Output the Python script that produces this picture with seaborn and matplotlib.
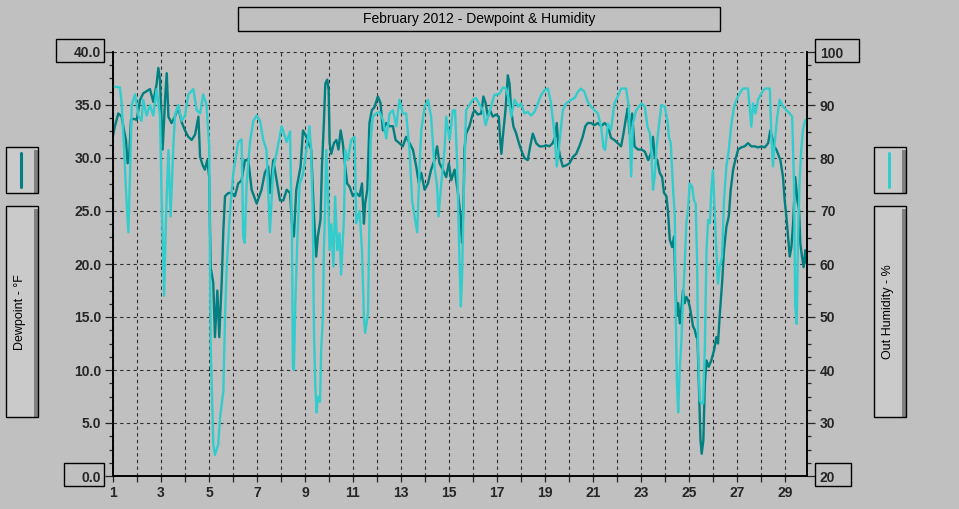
import numpy as np
import pandas as pd
import matplotlib
matplotlib.use("Agg")
import matplotlib.pyplot as plt
import seaborn as sns
from matplotlib.patches import Rectangle
from matplotlib.lines import Line2D
from matplotlib.ticker import AutoMinorLocator, FixedLocator

# -----------------------------
# Data (day of month, value)
# -----------------------------
dew_day = [
    1.00, 1.08, 1.22, 1.36, 1.46, 1.54, 1.61, 1.68, 1.75, 1.85, 1.99, 2.13, 2.26, 2.40, 2.54, 2.68,
    2.82, 2.89, 2.96, 3.07, 3.17, 3.24, 3.31, 3.44, 3.58, 3.72, 3.86, 4.00, 4.14, 4.28, 4.42, 4.56,
    4.63, 4.74, 4.83, 4.93, 5.01, 5.07, 5.18, 5.25, 5.35, 5.43, 5.53, 5.60, 5.67, 5.81, 5.94, 6.08,
    6.22, 6.36, 6.50, 6.64, 6.78, 6.99, 7.19, 7.33, 7.47, 7.54, 7.68, 7.82, 7.96, 8.10, 8.24, 8.38,
    8.46, 8.54, 8.64, 8.74, 8.82, 8.92, 9.06, 9.15, 9.26, 9.38, 9.47, 9.54, 9.65, 9.71, 9.79, 9.85,
    9.93, 9.99, 10.03, 10.10, 10.21, 10.31, 10.40, 10.49, 10.58, 10.68, 10.76, 10.86, 11.00, 11.14,
    11.28, 11.38, 11.46, 11.51, 11.60, 11.69, 11.79, 11.90, 12.04, 12.15, 12.25, 12.39, 12.53, 12.67,
    12.78, 12.94, 13.08, 13.22, 13.36, 13.50, 13.64, 13.75, 13.85, 13.99, 14.13, 14.26, 14.40, 14.51,
    14.61, 14.75, 14.89, 15.00, 15.10, 15.24, 15.38, 15.49, 15.55, 15.62, 15.65, 15.72, 15.86, 16.00,
    16.07, 16.21, 16.35, 16.44, 16.53, 16.63, 16.72, 16.83, 16.97, 17.08, 17.14, 17.19, 17.25, 17.36,
    17.46, 17.53, 17.60, 17.69, 17.81, 17.92, 18.01, 18.15, 18.29, 18.39, 18.50, 18.64, 18.78, 18.92,
    19.06, 19.19, 19.33, 19.43, 19.50, 19.56, 19.64, 19.75, 19.89, 20.03, 20.17, 20.31, 20.44, 20.58,
    20.69, 20.79, 20.93, 21.07, 21.21, 21.35, 21.49, 21.63, 21.76, 21.90, 22.04, 22.18, 22.28, 22.39,
    22.46, 22.53, 22.64, 22.74, 22.88, 23.03, 23.17, 23.31, 23.42, 23.51, 23.58, 23.69, 23.79, 23.89,
    23.97, 24.07, 24.14, 24.21, 24.31, 24.39, 24.44, 24.50, 24.56, 24.63, 24.69, 24.76, 24.83, 24.90,
    24.97, 25.04, 25.11, 25.18, 25.25, 25.32, 25.36, 25.42, 25.49, 25.54, 25.61, 25.67, 25.74, 25.83,
    25.94, 26.06, 26.15, 26.22, 26.29, 26.39, 26.47, 26.57, 26.67, 26.75, 26.85, 26.94, 27.06, 27.19,
    27.33, 27.47, 27.61, 27.75, 27.89, 28.03, 28.17, 28.31, 28.40, 28.47, 28.56, 28.65, 28.72, 28.82,
    28.93, 29.00, 29.07, 29.14, 29.21, 29.28, 29.35, 29.44, 29.53, 29.60, 29.65, 29.72, 29.79, 29.86,
    29.90,
]
dew_f = [
    32.1, 33.0, 34.2, 33.9, 32.6, 31.7, 29.5, 30.4, 33.6, 33.7, 33.6, 35.5, 36.1, 36.3, 36.5, 35.3,
    37.0, 38.5, 37.4, 30.8, 35.5, 38.0, 33.9, 33.3, 33.9, 34.8, 33.4, 32.6, 32.0, 31.7, 32.2, 33.9,
    30.1, 29.3, 28.9, 29.8, 28.2, 19.7, 18.2, 13.1, 17.5, 13.1, 18.2, 23.2, 26.4, 26.7, 26.7, 26.4,
    27.6, 27.9, 29.8, 29.8, 27.0, 25.7, 27.0, 28.6, 29.2, 26.7, 29.8, 27.9, 26.0, 26.0, 27.0, 26.7,
    23.8, 22.6, 27.0, 28.2, 29.2, 32.6, 32.0, 31.4, 30.8, 24.5, 20.7, 22.6, 24.2, 29.2, 33.3, 37.0,
    37.4, 36.4, 31.4, 30.4, 31.4, 31.7, 30.8, 32.6, 31.4, 29.2, 27.6, 27.3, 26.4, 26.7,
    26.4, 27.6, 23.8, 25.7, 27.0, 33.3, 34.5, 34.8, 35.8, 35.2, 32.6, 33.3, 33.0, 33.0,
    31.7, 31.4, 31.1, 32.0, 31.4, 30.8, 29.2, 27.6, 28.6, 27.0, 27.6, 28.9, 29.8, 31.1,
    29.5, 28.9, 28.2, 29.5, 27.9, 28.9, 26.7, 24.5, 22.0, 26.7, 30.8, 32.3, 33.0, 34.2,
    34.5, 34.1, 34.2, 35.8, 35.2, 33.9, 34.5, 33.9, 34.1, 33.9, 31.7, 30.4, 32.0, 34.5,
    37.8, 37.0, 34.5, 33.0, 32.3, 31.4, 30.8, 30.0, 29.8, 31.1, 32.3, 31.4, 31.1, 31.1,
    31.2, 31.1, 31.4, 32.0, 33.3, 31.1, 30.1, 29.2, 29.3, 29.5, 30.1, 30.4, 31.1, 32.0,
    33.0, 33.3, 33.3, 33.1, 33.3, 33.0, 33.3, 33.0, 31.9, 31.7, 31.4, 31.1, 32.3, 33.9,
    34.7, 32.3, 34.2, 31.1, 30.8, 30.8, 30.6, 29.8, 30.4, 32.0, 30.1, 29.8, 28.6, 28.2,
    26.7, 26.4, 24.8, 22.3, 21.6, 22.6, 18.2, 15.1, 16.3, 14.4, 15.7, 17.5, 16.3, 16.9,
    16.6, 16.0, 15.1, 14.1, 13.8, 13.1, 13.4, 8.7, 3.4, 2.1, 3.4, 8.7, 10.9, 10.3,
    10.9, 11.9, 13.1, 12.5, 15.1, 18.2, 21.3, 23.5, 24.5, 27.0, 28.9, 29.8, 30.8, 31.0,
    31.1, 31.4, 31.1, 31.1, 31.0, 31.1, 31.0, 31.4, 32.6, 32.0, 31.1, 30.8, 30.4, 29.8,
    28.2, 26.0, 24.5, 22.6, 20.7, 21.6, 23.8, 28.2, 26.0, 25.1, 22.0, 20.7, 19.7, 21.3,
    20.1,
]

hum_day = [
    1.00, 1.29, 1.36, 1.46, 1.54, 1.64, 1.71, 1.78, 1.92, 2.06, 2.19, 2.26, 2.40, 2.54, 2.68, 2.82,
    2.96, 3.03, 3.13, 3.21, 3.31, 3.40, 3.51, 3.58, 3.72, 3.86, 4.00, 4.14, 4.35, 4.49, 4.63, 4.76,
    4.90, 5.01, 5.07, 5.18, 5.25, 5.39, 5.46, 5.60, 5.67, 5.74, 5.88, 6.01, 6.22, 6.36, 6.43, 6.49,
    6.57, 6.71, 6.85, 6.99, 7.13, 7.26, 7.40, 7.54, 7.68, 7.82, 8.03, 8.24, 8.38, 8.40, 8.46, 8.50,
    8.54, 8.60, 8.68, 8.78, 8.92, 9.06, 9.19, 9.26, 9.33, 9.38, 9.43, 9.49, 9.54, 9.63, 9.68, 9.75,
    9.79, 9.85, 9.89, 9.96, 10.03, 10.10, 10.19, 10.26, 10.35, 10.44, 10.51, 10.63, 10.68, 10.79,
    10.93, 11.07, 11.14, 11.28, 11.38, 11.46, 11.51, 11.63, 11.69, 11.74, 11.83, 11.97, 12.11, 12.25,
    12.39, 12.53, 12.67, 12.81, 12.94, 13.08, 13.22, 13.36, 13.47, 13.57, 13.68, 13.78, 13.85, 13.99,
    14.13, 14.26, 14.40, 14.51, 14.57, 14.68, 14.82, 14.89, 15.03, 15.17, 15.26, 15.35, 15.44, 15.50,
    15.55, 15.63, 15.72, 15.86, 16.00, 16.14, 16.28, 16.42, 16.53, 16.63, 16.76, 16.90, 17.11, 17.25,
    17.39, 17.50, 17.60, 17.74, 17.89, 18.01, 18.15, 18.29, 18.43, 18.57, 18.71, 18.85, 18.99, 19.13,
    19.26, 19.40, 19.50, 19.58, 19.68, 19.75, 19.89, 20.10, 20.24, 20.38, 20.51, 20.65, 20.79, 20.93,
    21.07, 21.21, 21.35, 21.44, 21.51, 21.63, 21.76, 21.90, 22.04, 22.18, 22.39, 22.50, 22.60, 22.67,
    22.81, 23.03, 23.17, 23.28, 23.38, 23.44, 23.51, 23.58, 23.65, 23.75, 23.86, 24.00, 24.11, 24.17,
    24.25, 24.35, 24.42, 24.46, 24.51, 24.56, 24.63, 24.69, 24.76, 24.83, 24.90, 24.97, 25.04, 25.14,
    25.22, 25.29, 25.35, 25.39, 25.46, 25.53, 25.60, 25.67, 25.74, 25.81, 25.88, 25.94, 26.01, 26.08,
    26.15, 26.22, 26.29, 26.39, 26.47, 26.57, 26.67, 26.78, 26.89, 26.99, 27.13, 27.26, 27.47, 27.54,
    27.61, 27.68, 27.78, 27.89, 28.03, 28.17, 28.38, 28.44, 28.51, 28.58, 28.69, 28.79, 28.93, 29.07,
    29.21, 29.31, 29.39, 29.44, 29.50, 29.56, 29.63, 29.69, 29.76, 29.86,
]
hum_pct = [
    93.5, 93.3, 90.3, 82.0, 74.0, 66.0, 77.0, 90.0, 92.0, 88.0, 87.0, 91.0, 88.0, 90.0, 88.0, 93.0,
    88.0, 72.0, 54.0, 69.0, 81.5, 69.0, 81.5, 88.0, 90.0, 87.0, 88.0, 92.0, 93.0, 89.0, 88.4, 92.0,
    90.0, 82.0, 45.0, 26.0, 24.0, 26.0, 31.0, 36.0, 50.0, 59.5, 70.0, 77.0, 83.0, 83.5, 65.0, 64.0,
    75.0, 83.0, 87.0, 88.0, 87.0, 83.5, 81.5, 66.0, 78.0, 81.0, 86.0, 83.0, 85.0, 79.6, 65.8, 40.6,
    40.0, 52.5, 64.0, 75.0, 77.0, 81.5, 86.0, 81.5, 69.0, 47.0, 37.5, 32.0, 35.0, 34.0, 44.0, 50.0,
    62.6, 72.0, 81.5, 74.0, 62.6, 67.5, 59.5, 72.7, 62.6, 65.8, 58.0, 69.0, 81.5, 79.6,
    83.4, 84.0, 67.7, 70.0, 62.6, 50.0, 47.0, 50.7, 69.0, 83.4, 87.8, 88.4, 88.7, 87.2,
    83.7, 88.4, 89.0, 86.0, 91.0, 88.4, 88.4, 81.5, 72.0, 69.0, 66.0, 78.4, 85.3, 89.6,
    91.0, 87.8, 78.4, 74.6, 69.0, 75.0, 81.5, 87.8, 83.4, 89.0, 89.0, 78.4, 61.4, 52.0,
    57.5, 75.0, 89.0, 90.0, 91.0, 91.3, 90.0, 89.0, 86.2, 87.8, 89.7, 91.9, 92.1, 93.3,
    93.1, 91.0, 87.8, 91.0, 89.7, 90.3, 88.4, 88.7, 88.0, 88.7, 90.3, 91.9, 92.8, 93.1,
    90.3, 84.7, 78.4, 81.5, 85.9, 89.0, 90.3, 91.0, 91.3, 92.5, 93.1, 92.5, 90.6, 89.7,
    89.0, 88.4, 85.9, 82.1, 81.5, 86.5, 85.3, 90.3, 91.6, 93.1, 93.1, 89.7, 76.5, 86.5,
    89.0, 90.3, 89.7, 85.9, 84.7, 81.5, 74.0, 76.5, 81.5, 85.9, 90.0, 89.7, 87.2, 84.0,
    82.8, 74.0, 69.0, 50.0, 37.5, 32.0, 40.6, 45.0, 53.2, 59.5, 67.7, 70.2, 75.2, 74.6,
    72.0, 71.4, 60.0, 43.8, 34.3, 33.7, 33.7, 43.8, 62.6, 68.3, 67.7, 74.0, 77.7, 70.2,
    62.6, 56.3, 59.5, 61.4, 72.0, 78.4, 81.5, 86.5, 89.7, 91.0, 92.2, 93.1, 93.1, 89.4,
    85.9, 90.3, 88.4, 91.0, 92.2, 93.1, 93.1, 84.7, 78.4, 82.8, 87.8, 91.0, 89.7, 89.0,
    88.4, 87.8, 75.2, 52.0, 48.7, 65.8, 76.5, 81.5, 85.3, 87.2,
]

x_ticks = list(range(1, 30))
x_labels = [str(d) if d % 2 == 1 else "" for d in x_ticks]
dew_ticks = [0, 5, 10, 15, 20, 25, 30, 35, 40]
hum_ticks = [20, 30, 40, 50, 60, 70, 80, 90, 100]

title = "February 2012 - Dewpoint & Humidity"
left_label = "Dewpoint - °F"
right_label = "Out Humidity - %"

# -----------------------------
# Style
# -----------------------------
BG = "#C0C0C0"
PANEL = "#CACACA"
SHADOW = "#808080"
DEW_COLOR = "#008080"
HUM_COLOR = "#33CCCC"
W, H = 959, 509

sns.set_style("ticks")
plt.rcParams["font.family"] = ["Liberation Sans", "DejaVu Sans"]

dew_df = pd.DataFrame({"day": dew_day, "dewpoint": dew_f})
hum_df = pd.DataFrame({"day": hum_day, "humidity": hum_pct})

fig = plt.figure(figsize=(W / 100, H / 100), dpi=100, facecolor=BG)
ax = fig.add_axes([113 / W, 1 - 476 / H, (807 - 113) / W, (476 - 52) / H])
ax.set_facecolor(BG)
ax2 = ax.twinx()

sns.lineplot(data=dew_df, x="day", y="dewpoint", ax=ax, color=DEW_COLOR,
             lw=1.7, estimator=None, sort=False)
sns.lineplot(data=hum_df, x="day", y="humidity", ax=ax2, color=HUM_COLOR,
             lw=1.7, estimator=None, sort=False)

ax.set_xlim(1, 29.93)
ax.set_ylim(0, 40)
ax2.set_ylim(20, 100)

ax.set_xticks(x_ticks)
ax.set_xticklabels(x_labels)
ax.yaxis.set_major_locator(FixedLocator(dew_ticks))
ax.set_yticklabels([f"{v:.1f}" for v in dew_ticks])
ax.yaxis.set_minor_locator(AutoMinorLocator(4))
ax2.yaxis.set_major_locator(FixedLocator(hum_ticks))
ax2.set_yticklabels([str(v) for v in hum_ticks])
ax2.yaxis.set_minor_locator(AutoMinorLocator(4))

ax.set_xlabel("")
ax.set_ylabel("")
ax2.set_ylabel("")

ax.grid(True, which="major", color="#303030", linestyle=(0, (3, 3)), lw=0.8)
ax.set_axisbelow(True)

for a in (ax, ax2):
    a.spines["top"].set_visible(False)
    for s in ("left", "right", "bottom"):
        a.spines[s].set_color("black")
        a.spines[s].set_linewidth(1.2)

ax.tick_params(axis="x", direction="out", length=4.5, width=0.9, pad=3, labelsize=10)
ax.tick_params(axis="y", which="major", direction="out", length=5.8, width=0.9, pad=2.5, labelsize=10)
ax.tick_params(axis="y", which="minor", direction="out", length=2.8, width=0.9)
ax2.tick_params(axis="y", which="major", direction="out", length=5.8, width=0.9, pad=3.5, labelsize=10)
ax2.tick_params(axis="y", which="minor", direction="out", length=2.8, width=0.9)

for lab in ax.get_xticklabels() + ax.get_yticklabels() + ax2.get_yticklabels():
    lab.set_fontweight("bold")


# -----------------------------
# Frames, panels and title (figure pixel coordinates)
# -----------------------------
def px_rect(x0, y0, x1, y1, **kw):
    fig.add_artist(Rectangle((x0 / W, 1 - y1 / H), (x1 - x0) / W, (y1 - y0) / H,
                             transform=fig.transFigure, **kw))


# title box
px_rect(238, 7, 720, 31, facecolor="none", edgecolor="black", lw=1)
fig.text(479 / W, 1 - 19.5 / H, title, ha="center", va="center", fontsize=10, color="black")

# boxed end labels
px_rect(56, 39, 104, 62, facecolor="none", edgecolor="black", lw=1)
px_rect(64, 463, 104, 486, facecolor="none", edgecolor="black", lw=1)
px_rect(815, 39, 859, 62, facecolor="none", edgecolor="black", lw=1)
px_rect(815, 463, 851, 486, facecolor="none", edgecolor="black", lw=1)

# side panels: legend swatch + axis label
for x0, color, label in ((6, DEW_COLOR, left_label), (874, HUM_COLOR, right_label)):
    x1 = x0 + 32
    for y0, y1 in ((147, 193), (206, 417)):
        px_rect(x0, y0, x1, y1, facecolor=PANEL, edgecolor="none")
        px_rect(x1 - 4, y0 + 3, x1, y1, facecolor=SHADOW, edgecolor="none")
        px_rect(x0, y0, x1, y1, facecolor="none", edgecolor="black", lw=1)
    xc = (x0 + x1 - 3) / 2
    fig.add_artist(Line2D([xc / W, xc / W], [1 - 153 / H, 1 - 187 / H],
                          transform=fig.transFigure, color=color, lw=2.2))
    fig.text(xc / W, 1 - 312 / H, label, rotation=90, ha="center", va="center",
             fontsize=9, color="black")

fig.savefig("out.png", dpi=100, facecolor=BG)
plt.close(fig)
